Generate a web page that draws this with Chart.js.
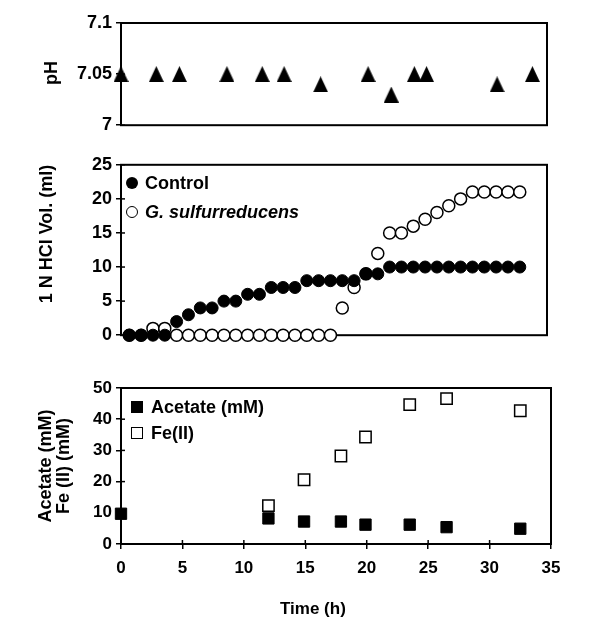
<!DOCTYPE html>
<html>
<head>
<meta charset="utf-8">
<script src="https://cdn.jsdelivr.net/npm/chart.js@4.4.1/dist/chart.umd.min.js"></script>
<style>
  body { margin: 0; background: #fff; font-family: "Liberation Sans", Arial, sans-serif; }
  #wrap { position: relative; width: 600px; height: 641px; }
  canvas { position: absolute; left: 0; }
  .ytitle { position: absolute; font-weight: bold; font-size: 18px; white-space: nowrap;
            transform: translate(-50%, -50%) rotate(-90deg); }
  .leg { position: absolute; font-weight: bold; font-size: 18px; white-space: nowrap;
         height: 20px; line-height: 20px; }
  .sym { position: absolute; box-sizing: border-box; }
</style>
</head>
<body>
<div id="wrap">
  <canvas id="phChart" width="600" height="140" style="top:0"></canvas>
  <canvas id="hclChart" width="600" height="200" style="top:150px"></canvas>
  <canvas id="ironChart" width="600" height="281" style="top:360px"></canvas>

  <div class="ytitle" style="left:51px; top:73px">pH</div>
  <div class="ytitle" style="left:46px; top:234px">1 N HCl Vol. (ml)</div>
  <div class="ytitle" style="left:45px; top:466px">Acetate (mM)</div>
  <div class="ytitle" style="left:63px; top:466px">Fe (II) (mM)</div>
  <div class="leg" style="left:280px; top:599px; font-size:17px">Time (h)</div>

  <!-- legends -->
  <div class="sym" style="left:126px; top:177px; width:12px; height:12px; border-radius:50%; background:#000"></div>
  <div class="leg" style="left:145px; top:173px">Control</div>
  <div class="sym" style="left:126px; top:206px; width:12px; height:12px; border-radius:50%; border:1.5px solid #000; background:#fff"></div>
  <div class="leg" style="left:145px; top:202px"><i>G. sulfurreducens</i></div>

  <div class="sym" style="left:131px; top:401px; width:12px; height:12px; background:#000"></div>
  <div class="leg" style="left:151px; top:397px">Acetate (mM)</div>
  <div class="sym" style="left:131px; top:427px; width:12px; height:12px; border:1.5px solid #000; background:#fff"></div>
  <div class="leg" style="left:151px; top:423px">Fe(II)</div>
</div>

<script>
// pH panel
const phTime = [0, 2.9, 4.8, 8.7, 11.6, 13.4, 16.4, 20.3, 22.2, 24.1, 25.1, 30.9, 33.8];
const phValues = [7.05, 7.05, 7.05, 7.05, 7.05, 7.05, 7.04, 7.05, 7.03, 7.05, 7.05, 7.04, 7.05];
const phTicks = [7, 7.05, 7.1];

// HCl panel (one point per sample)
const hclSample = [1, 2, 3, 4, 5, 6, 7, 8, 9, 10, 11, 12, 13, 14, 15, 16, 17,
  18, 19, 20, 21, 22, 23, 24, 25, 26, 27, 28, 29, 30, 31, 32, 33, 34];
const controlHcl = [0, 0, 0, 0, 2, 3, 4, 4, 5, 5, 6, 6, 7, 7, 7, 8, 8,
  8, 8, 8, 9, 9, 10, 10, 10, 10, 10, 10, 10, 10, 10, 10, 10, 10];
const geobacterHcl = [0, 0, 1, 1, 0, 0, 0, 0, 0, 0, 0, 0, 0, 0, 0, 0, 0,
  0, 4, 7, 9, 12, 15, 15, 16, 17, 18, 19, 20, 21, 21, 21, 21, 21];

// Acetate / Fe(II) panel
const acetateTime = [0, 12, 14.9, 17.9, 19.9, 23.5, 26.5, 32.5];
const acetateValues = [9.7, 8.2, 7.2, 7.2, 6.2, 6.2, 5.4, 4.9];
const ironTime = [12, 14.9, 17.9, 19.9, 23.5, 26.5, 32.5];
const ironValues = [12.3, 20.6, 28.2, 34.3, 44.7, 46.6, 42.7];

Chart.defaults.font.family = '"Liberation Sans", Arial, sans-serif';
Chart.defaults.font.size = 18;
Chart.defaults.font.weight = 'bold';
Chart.defaults.color = '#000';

const toXY = (xs, ys) => xs.map((x, i) => ({ x: x, y: ys[i] }));

// triangle marker centred on its bounding box, like the original
const tri = document.createElement('canvas');
tri.width = 15; tri.height = 16;
const tctx = tri.getContext('2d');
tctx.fillStyle = '#000';
tctx.beginPath();
tctx.moveTo(7.5, 0); tctx.lineTo(15, 16); tctx.lineTo(0, 16);
tctx.closePath();
tctx.fill();

// box around the plot area plus the inner half of the tick marks
const frame = {
  id: 'frame',
  beforeDatasetsDraw(chart) {
    const { ctx, chartArea: a } = chart;
    ctx.save();
    ctx.strokeStyle = '#000';
    ctx.lineWidth = 2;
    ctx.strokeRect(a.left, a.top, a.right - a.left, a.bottom - a.top);
    ctx.lineWidth = 1.5;
    const ys = chart.scales.y;
    ys.ticks.forEach(t => {
      const p = ys.getPixelForValue(t.value);
      ctx.beginPath(); ctx.moveTo(a.left, p); ctx.lineTo(a.left + 4, p); ctx.stroke();
    });
    const xs = chart.scales.x;
    if (xs.options.display) {
      xs.ticks.forEach(t => {
        const p = xs.getPixelForValue(t.value);
        ctx.beginPath(); ctx.moveTo(p, a.bottom); ctx.lineTo(p, a.bottom - 4); ctx.stroke();
      });
    }
    ctx.restore();
  }
};

function yAxis(min, max, step) {
  return {
    min: min, max: max,
    ticks: { stepSize: step, padding: 4 },
    grid: { drawOnChartArea: false, tickLength: 5, color: '#000', lineWidth: 1.5 },
    border: { display: false },
    afterFit: s => { s.width = 121; }
  };
}

const baseOptions = (pad, scales) => ({
  responsive: false,
  animation: false,
  layout: { padding: pad },
  plugins: { legend: { display: false }, tooltip: { enabled: false } },
  scales: scales
});

// pH
const phY = yAxis(7, 7.1, 0.05);
phY.afterBuildTicks = s => { s.ticks = phTicks.map(v => ({ value: v })); };
phY.ticks.callback = v => String(Number(v.toFixed(2)));
new Chart(document.getElementById('phChart'), {
  type: 'scatter',
  data: {
    datasets: [{
      data: toXY(phTime, phValues),
      pointStyle: tri,
      clip: false
    }]
  },
  options: baseOptions({ top: 23, bottom: 12, left: 0, right: 53 }, {
    x: { type: 'linear', min: 0, max: 35, display: false },
    y: phY
  }),
  plugins: [frame]
});

// HCl volume
new Chart(document.getElementById('hclChart'), {
  type: 'scatter',
  data: {
    datasets: [
      {
        label: 'Control',
        data: toXY(hclSample, controlHcl),
        pointStyle: 'circle', radius: 6,
        backgroundColor: '#000', borderColor: '#000', borderWidth: 1,
        clip: false
      },
      {
        label: 'G. sulfurreducens',
        data: toXY(hclSample, geobacterHcl),
        pointStyle: 'circle', radius: 6,
        backgroundColor: '#fff', borderColor: '#000', borderWidth: 1.5,
        clip: false
      }
    ]
  },
  options: baseOptions({ top: 13, bottom: 10, left: 0, right: 53 }, {
    x: { type: 'linear', min: 0.3, max: 36.3, display: false },
    y: yAxis(0, 25, 5)
  }),
  plugins: [frame]
});

// Acetate and Fe(II)
const ironY = yAxis(0, 50, 10);
ironY.ticks.font = { size: 17 };
new Chart(document.getElementById('ironChart'), {
  type: 'scatter',
  data: {
    datasets: [
      {
        label: 'Acetate (mM)',
        data: toXY(acetateTime, acetateValues),
        pointStyle: 'rect', radius: 8,
        backgroundColor: '#000', borderColor: '#000', borderWidth: 1,
        clip: false
      },
      {
        label: 'Fe(II)',
        data: toXY(ironTime, ironValues),
        pointStyle: 'rect', radius: 8,
        backgroundColor: '#fff', borderColor: '#000', borderWidth: 1.5,
        clip: false
      }
    ]
  },
  options: baseOptions({ top: 28, bottom: 0, left: 0, right: 49 }, {
    x: {
      type: 'linear', min: 0, max: 35,
      ticks: { stepSize: 5, padding: 9, maxRotation: 0, font: { size: 17 } },
      grid: { drawOnChartArea: false, tickLength: 5, color: '#000', lineWidth: 1.5 },
      border: { display: false },
      afterFit: s => { s.height = 97; }
    },
    y: ironY
  }),
  plugins: [frame]
});
</script>
</body>
</html>
